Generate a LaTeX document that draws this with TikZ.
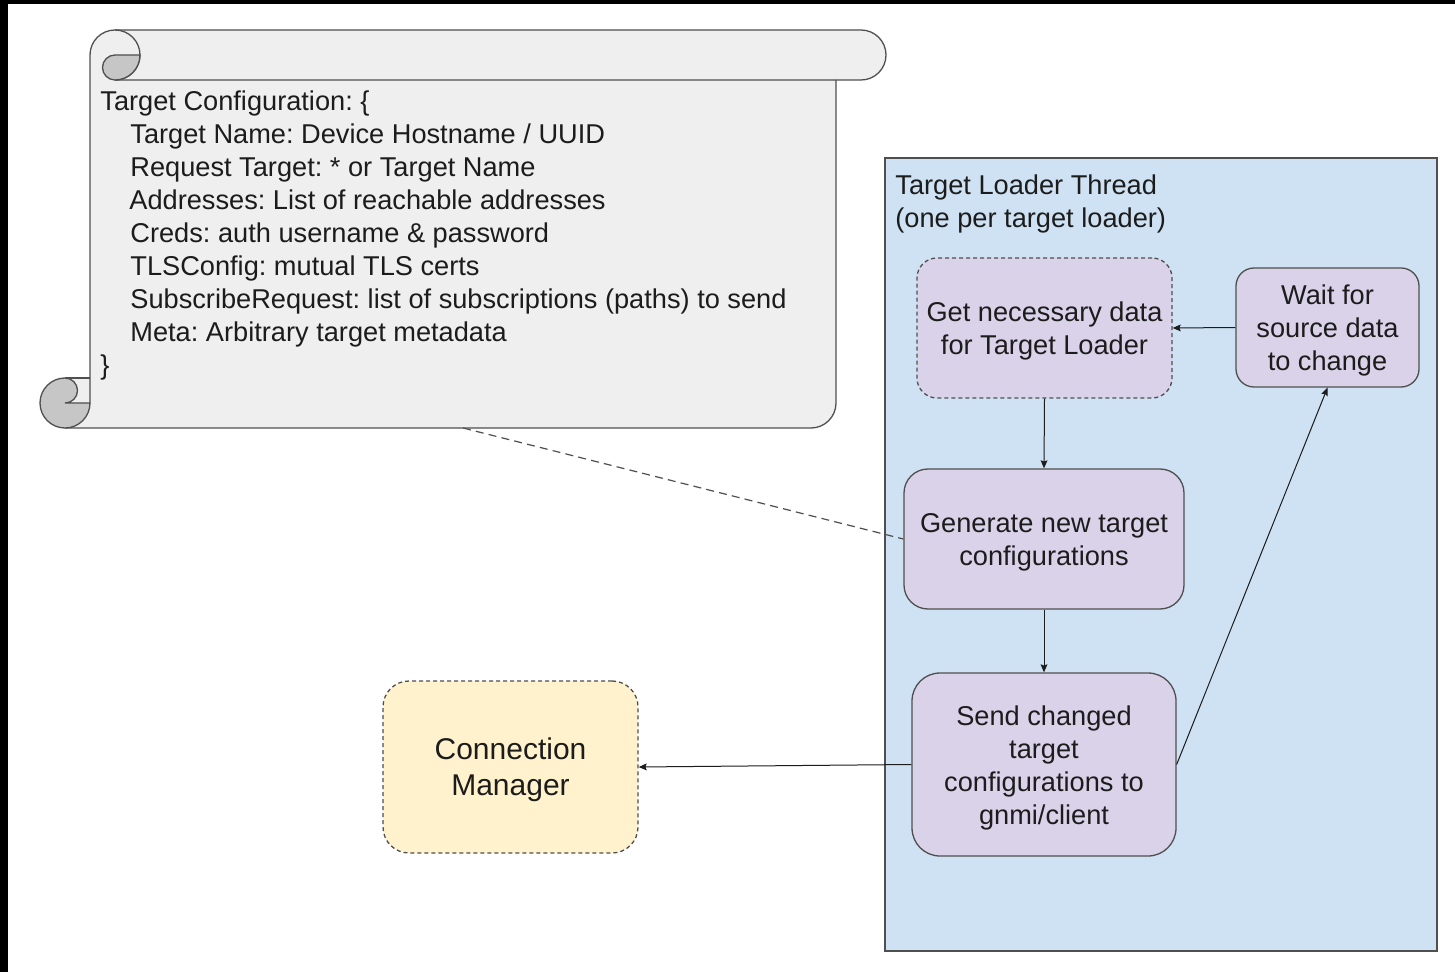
\documentclass[tikz,border=0pt]{standalone}
\usepackage{fontspec}
\setmainfont{Liberation Sans}
\usetikzlibrary{arrows.meta}
\frenchspacing

\definecolor{scrollfill}{HTML}{EFEFEF}
\definecolor{curlgray}{HTML}{C6C6C6}
\definecolor{edgegray}{HTML}{4F4F4F}
\definecolor{threadblue}{HTML}{CFE2F3}
\definecolor{stepviolet}{HTML}{D9D2E9}
\definecolor{mgryellow}{HTML}{FFF2CC}
\definecolor{inkblack}{HTML}{1C1C1C}

% fixed line metrics so box labels sit on the same baselines
\newcommand\boxtop{\rule{0pt}{13pt}}
\newcommand\boxbot{\rule[-3pt]{0pt}{3pt}}
\newcommand\bigboxtop{\rule{0pt}{14.1pt}}
\newcommand\bigboxbot{\rule[-3.4pt]{0pt}{3.4pt}}

\tikzset{
  scrollline/.style={draw=edgegray, line width=0.65pt},
  curl/.style={fill=curlgray, draw=edgegray, line width=0.65pt},
  bodytext/.style={font=\fontsize{13.6}{16.5}\selectfont, text=inkblack},
  stepbox/.style={draw=edgegray, fill=stepviolet, line width=0.65pt,
    align=center, inner sep=0pt, bodytext},
  dashbox/.style={dash pattern=on 2pt off 1.5pt},
  arr/.style={draw=inkblack, line width=0.5pt,
    -{Stealth[length=4pt,width=3.4pt,inset=0.6pt]}},
  link/.style={draw=edgegray, line width=0.6pt, dash pattern=on 4pt off 2.6pt},
}

\begin{document}
\begin{tikzpicture}[x=0.5pt,y=-0.5pt]
  % canvas (pixel grid, y downwards)
  \useasboundingbox (0,0) rectangle (1455,972);
  \fill[white] (0,0) rectangle (1455,972);
  \fill[black] (0,0) rectangle (1455,4);
  \fill[black] (0,0) rectangle (7.5,972);

  % ---- configuration scroll ----
  \fill[scrollfill] (90,55) arc[start angle=180,end angle=270,radius=25]
    -- (861,30) arc[start angle=-90,end angle=90,radius=25]
    -- (836,80) -- (836,403) arc[start angle=0,end angle=90,radius=25]
    -- (65,428) -- (65,378) -- (90,378) -- cycle;
  \draw[scrollline] (90,403) -- (90,55) arc[start angle=180,end angle=450,radius=25];
  \draw[scrollline] (115,30) -- (861,30) arc[start angle=-90,end angle=90,radius=25] -- (115,80);
  \draw[scrollline] (836,80) -- (836,403) arc[start angle=0,end angle=90,radius=25] -- (65,428);
  \draw[scrollline] (65,378) -- (90,378);
  % rolled ends
  \filldraw[curl] (140,55) arc[start angle=0,end angle=90,radius=25]
    arc[start angle=90,end angle=270,radius=12.5] -- cycle;
  \filldraw[curl] (65,378) arc[start angle=270,end angle=0,radius=25]
    -- (65,403) arc[start angle=90,end angle=-90,radius=12.5] -- cycle;

  % anchored on the baseline of the closing brace
  \node[bodytext, anchor=base west, align=left, inner sep=0pt] (cfg) at (100,375)
    {Target Configuration: \{\\
     \hspace*{15pt}Target Name: Device Hostname / UUID\\
     \hspace*{15pt}Request Target: * or Target Name\\
     \hspace*{14.5pt}Addresses: List of reachable addresses\\
     \hspace*{15pt}Creds: auth username \& password\\
     \hspace*{15pt}TLSConfig: mutual TLS certs\\
     \hspace*{15pt}SubscribeRequest: list of subscriptions (paths) to send\\
     \hspace*{15pt}Meta: Arbitrary target metadata\\
     \}};
  \coordinate (cfgfoot) at (463,428);

  % ---- target loader thread ----
  \node[draw=edgegray, fill=threadblue, line width=0.75pt, inner sep=0pt,
        minimum width=276pt, minimum height=396.5pt] (thread) at (1161,554.5) {};
  \node[bodytext, anchor=base west, align=left, inner sep=0pt] (threadtitle) at (895,228)
    {Target Loader Thread\\(one per target loader)};

  \node[stepbox, dashbox, rounded corners=10pt,
        minimum width=127.5pt, minimum height=70pt] (get) at (1044.5,328)
    {\boxtop Get necessary data\\for Target Loader\boxbot};
  \node[stepbox, rounded corners=9pt,
        minimum width=91.5pt, minimum height=59.5pt] (wait) at (1327.5,327.5)
    {\boxtop Wait for\\source data\\to change\boxbot};
  \node[stepbox, rounded corners=12pt,
        minimum width=140pt, minimum height=70pt] (gen) at (1044,539)
    {\boxtop Generate new target\\configurations\boxbot};
  \node[stepbox, rounded corners=14pt,
        minimum width=132pt, minimum height=91.5pt] (send) at (1044,764.5)
    {\boxtop Send changed\\target\\configurations to\\gnmi/client\boxbot};

  % ---- connection manager ----
  \node[draw=edgegray, fill=mgryellow, line width=0.65pt, dashbox,
        rounded corners=13pt, align=center, inner sep=0pt,
        minimum width=127.5pt, minimum height=86pt,
        font=\fontsize{15}{18}\selectfont, text=inkblack] (cm) at (510.5,767)
    {\bigboxtop Connection\\Manager\bigboxbot};

  % ---- connectors ----
  \draw[arr] (wait.west) -- (get.east);
  \draw[arr] (get.south) -- (gen.north);
  \draw[arr] (gen.south) -- (send.north);
  \draw[arr] (send.east) -- (wait.south);
  \draw[arr] (send.west) -- (cm.east);
  \draw[link] (cfgfoot) -- (gen.west);
\end{tikzpicture}
\end{document}
